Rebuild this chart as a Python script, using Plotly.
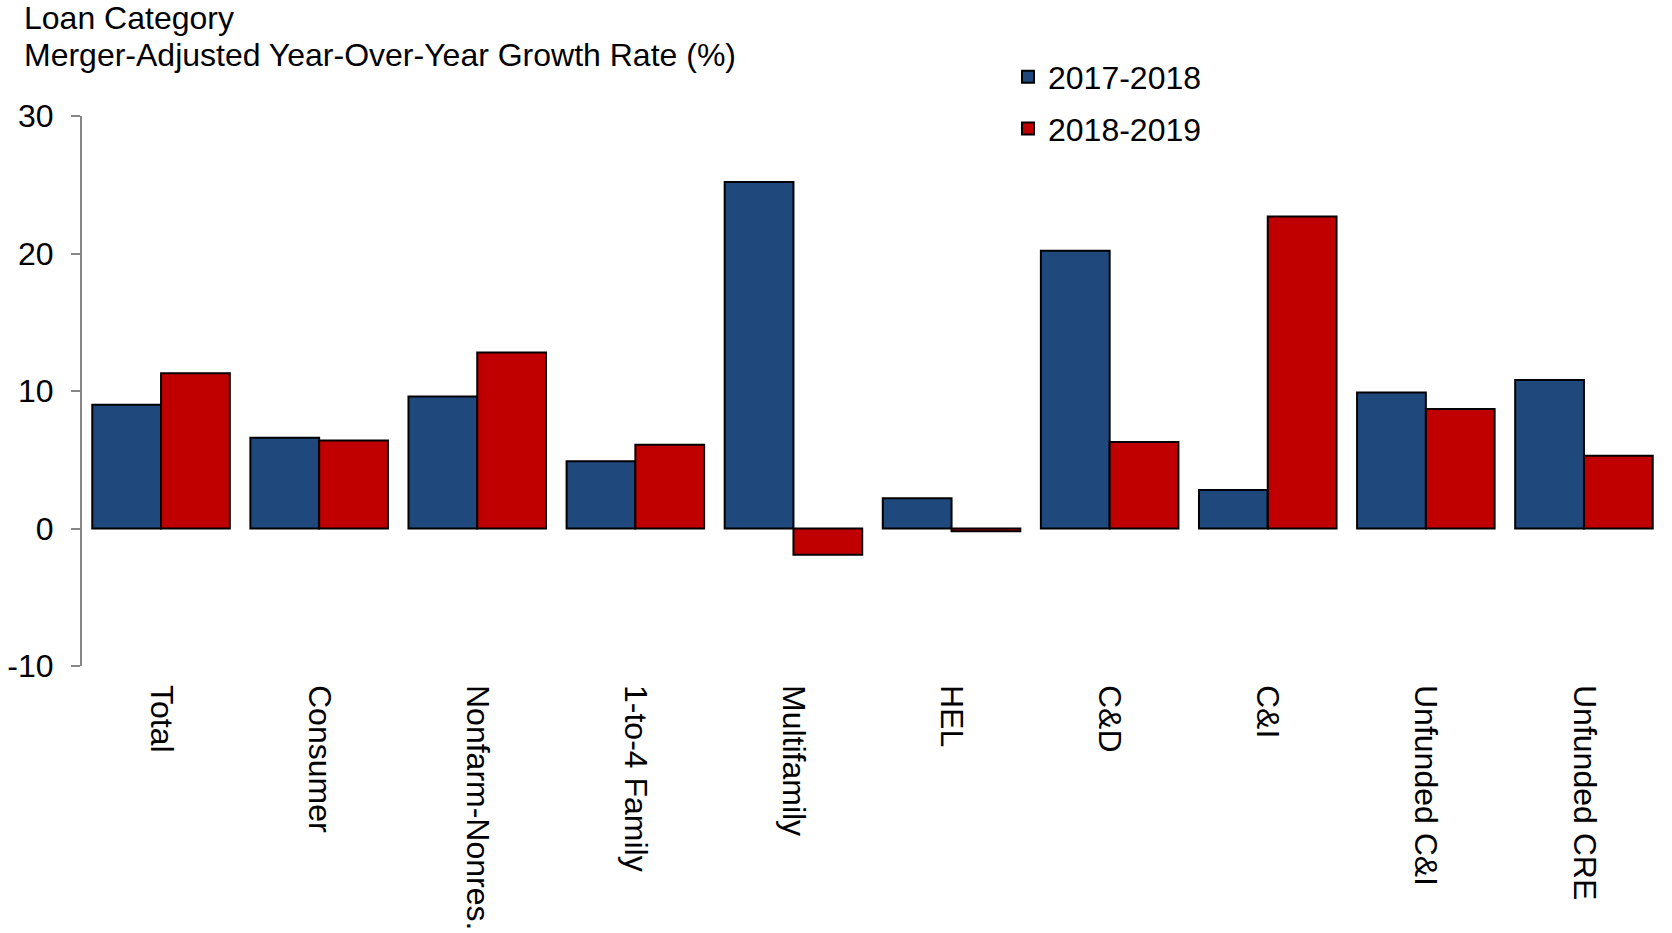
import plotly.graph_objects as go

categories = ["Total", "Consumer", "Nonfarm-Nonres.", "1-to-4 Family", "Multifamily",
              "HEL", "C&D", "C&I", "Unfunded C&I", "Unfunded CRE"]
growth_2017_2018 = [9.0, 6.6, 9.6, 4.9, 25.2, 2.2, 20.2, 2.8, 9.9, 10.8]
growth_2018_2019 = [11.3, 6.4, 12.8, 6.1, -1.9, -0.2, 6.3, 22.7, 8.7, 5.3]
y_ticks = [-10, 0, 10, 20, 30]
y_tick_text = ["-10", "0", "10", "20", "30"]

FONT = "Arial, Liberation Sans, sans-serif"
FS = 32
AXIS_GRAY = "#868686"

W, H = 1672, 933
M_L, M_R, M_T, M_B = 82, 9, 116, 267
PLOT_H = H - M_T - M_B

fig = go.Figure()
fig.add_trace(go.Bar(
    x=categories, y=growth_2017_2018, name="2017-2018", legendgroup="a",
    marker=dict(color="#1F497D", line=dict(color="black", width=2)),
))
fig.add_trace(go.Bar(
    x=categories, y=growth_2018_2019, name="2018-2019", legendgroup="b",
    marker=dict(color="#C00000", line=dict(color="black", width=2)),
))


def paper_y(py):
    """Convert a pixel row (from the top) to a paper y fraction."""
    return (H - M_B - py) / PLOT_H


fig.add_annotation(
    text="Loan Category", xref="paper", yref="paper",
    x=(22 - M_L) / (W - M_L - M_R), y=paper_y(18),
    xanchor="left", yanchor="middle", showarrow=False,
    font=dict(family=FONT, size=FS, color="black"),
)
fig.add_annotation(
    text="Merger-Adjusted Year-Over-Year Growth Rate (%)", xref="paper", yref="paper",
    x=(22 - M_L) / (W - M_L - M_R), y=paper_y(55),
    xanchor="left", yanchor="middle", showarrow=False,
    font=dict(family=FONT, size=FS, color="black"),
)

fig.update_layout(
    template="none",
    width=W, height=H,
    margin=dict(l=M_L, r=M_R, t=M_T, b=M_B, autoexpand=False),
    paper_bgcolor="white", plot_bgcolor="white",
    barmode="group", bargap=0.13, bargroupgap=0,
    font=dict(family=FONT, size=FS, color="black"),
    showlegend=True,
    legend=dict(
        font=dict(family=FONT, size=FS, color="black"),
        bgcolor="rgba(0,0,0,0)", borderwidth=0,
        xref="container", yref="container",
        x=(1054 - 46) / W, y=1 - 103 / H,
        xanchor="left", yanchor="middle",
        traceorder="grouped", tracegroupgap=7, itemwidth=30,
    ),
    xaxis=dict(
        type="category", tickangle=90, showline=False, ticks="",
        showgrid=False, zeroline=False, ticklabelstandoff=18, automargin=False,
        tickfont=dict(family=FONT, size=FS, color="black"),
    ),
    # second x axis drawn along the zero line, with ticks between categories
    xaxis2=dict(
        overlaying="x", anchor="free", position=paper_y(H - M_B) + 10 / 40,
        range=[-0.5, len(categories) - 0.5],
        tickmode="array", tickvals=[i - 0.5 for i in range(len(categories) + 1)],
        ticks="outside", ticklen=9, tickwidth=2, tickcolor=AXIS_GRAY,
        showticklabels=False, showline=True, linecolor=AXIS_GRAY, linewidth=2,
        showgrid=False, zeroline=False, automargin=False,
    ),
    yaxis=dict(
        range=[-10, 30], tickmode="array", tickvals=y_ticks, ticktext=y_tick_text,
        showgrid=False, zeroline=False,
        showline=True, linecolor=AXIS_GRAY, linewidth=2,
        ticks="outside", ticklen=9, tickwidth=2, tickcolor=AXIS_GRAY,
        ticklabelstandoff=11, automargin=False,
        tickfont=dict(family=FONT, size=FS, color="black"),
    ),
)

fig.write_html("out.html")
